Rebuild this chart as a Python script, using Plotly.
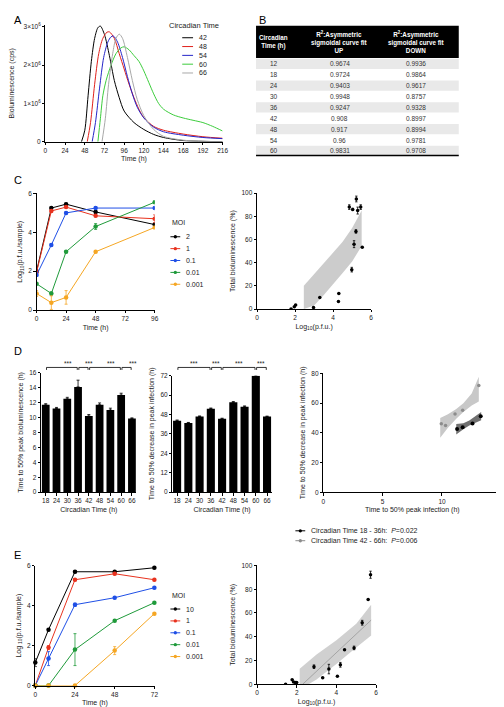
import plotly.graph_objects as go

W, H = 504, 707
FONT = "Liberation Sans, Arial, sans-serif"

def px(x):
    return x / W

def py(y):
    return 1 - y / H

# ---------------- DATA ----------------
# Panel A: bioluminescence curves (cps)
a_labels = ["42", "48", "54", "60", "66"]
a_colors = ["#000000", "#e0201b", "#2525c8", "#3ccc3c", "#a8a8a8"]
a_t42 = [44, 48, 52, 56, 60, 64, 67, 72, 78, 84, 90, 96, 108, 120, 132, 144, 168, 192, 216]
a_v42 = [0, 0.3e6, 1.2e6, 2.1e6, 2.7e6, 2.98e6, 3.02e6, 2.8e6, 2.25e6, 1.6e6, 1.15e6, 0.8e6,
         0.5e6, 0.32e6, 0.19e6, 0.11e6, 0.03e6, 0.01e6, 0.0]
a_t48 = [51, 55, 60, 65, 70, 75, 78, 84, 90, 96, 102, 108, 114, 120, 132, 144, 168, 192, 216]
a_v48 = [0, 0.5e6, 1.5e6, 2.3e6, 2.7e6, 2.86e6, 2.87e6, 2.7e6, 2.3e6, 1.9e6, 1.5e6, 1.15e6,
         0.85e6, 0.63e6, 0.4e6, 0.3e6, 0.2e6, 0.13e6, 0.09e6]
a_t54 = [57, 61, 66, 71, 76, 80, 83, 88, 94, 100, 106, 112, 120, 132, 144, 168, 192, 216]
a_v54 = [0, 0.5e6, 1.4e6, 2.2e6, 2.6e6, 2.74e6, 2.76e6, 2.6e6, 2.2e6, 1.7e6, 1.25e6, 0.9e6,
         0.62e6, 0.38e6, 0.26e6, 0.17e6, 0.11e6, 0.08e6]
a_t60 = [64, 67, 70, 74, 80, 86, 92, 96, 102, 108, 114, 120, 126, 132, 138, 144, 156, 168, 180, 192, 204, 216]
a_v60 = [0, 0.6e6, 1.2e6, 1.6e6, 2.0e6, 2.3e6, 2.45e6, 2.48e6, 2.4e6, 2.25e6, 2.1e6, 1.85e6,
         1.55e6, 1.25e6, 1.0e6, 0.85e6, 0.7e6, 0.62e6, 0.56e6, 0.5e6, 0.4e6, 0.28e6]
a_t66 = [69, 73, 77, 82, 86, 90, 94, 100, 106, 112, 120, 132, 144, 168, 192, 216]
a_v66 = [0, 0.6e6, 1.5e6, 2.3e6, 2.7e6, 2.81e6, 2.7e6, 2.2e6, 1.6e6, 1.1e6, 0.68e6, 0.32e6,
         0.14e6, 0.04e6, 0.01e6, 0.0]
a_times = [a_t42, a_t48, a_t54, a_t60, a_t66]
a_values = [a_v42, a_v48, a_v54, a_v60, a_v66]

# Panel B: table
b_header = ["<b>Circadian<br>Time (h)</b>",
            "<b>R<sup>2</sup>:Asymmetric<br>sigmoidal curve fit<br>UP</b>",
            "<b>R<sup>2</sup>:Asymmetric<br>sigmoidal curve fit<br>DOWN</b>"]
b_ct = ["12", "18", "24", "30", "36", "42", "48", "54", "60"]
b_up = ["0.9674", "0.9724", "0.9403", "0.9948", "0.9247", "0.908", "0.917", "0.96", "0.9831"]
b_down = ["0.9936", "0.9864", "0.9617", "0.8757", "0.9328", "0.8997", "0.8994", "0.9781", "0.9708"]

# Panel C left: growth curves
moi_colors = ["#000000", "#e8321e", "#1f4fe6", "#1f9a3a", "#f5a623"]
c_moi = ["2", "1", "0.1", "0.01", "0.001"]
c_time = [0, 12, 24, 48, 96]
c_vals = [
    [2.0, 5.25, 5.45, 5.05, 4.4],
    [1.95, 5.1, 5.3, 4.85, 4.7],
    [1.8, 3.35, 5.0, 5.25, 5.25],
    [1.35, 0.85, 3.0, 4.3, 5.55],
    [0.85, 0.38, 0.65, 3.0, 4.25],
]
c_err = [
    [0.05, 0.05, 0.05, 0.05, 0.05],
    [0.05, 0.05, 0.05, 0.05, 0.2],
    [0.05, 0.05, 0.05, 0.05, 0.05],
    [0.05, 0.08, 0.05, 0.15, 0.05],
    [0.15, 0.35, 0.35, 0.05, 0.05],
]

# Panel C right: scatter
cr_x = [1.79, 1.96, 2.03, 2.97, 3.3, 4.3, 4.28, 4.98, 4.85, 5.03, 5.22, 5.29, 5.45, 5.2, 5.1, 5.53]
cr_y = [0, 2, 3.4, 1.4, 10, 13.4, 6.5, 34, 88, 86, 95, 85, 88, 67, 56, 53.4]
cr_e = [0, 0, 0, 0, 0, 0, 0, 2, 2, 1, 2.5, 3, 2, 1.5, 3, 0]
cr_band_x = [2.46, 3.0, 3.5, 4.0, 4.5, 5.0, 5.5, 5.5, 5.0, 4.5, 4.0, 3.5, 3.0, 2.46]
cr_band_y = [20, 30, 39, 48, 58, 70, 85, 54.5, 41, 31, 21, 12, 3, 0]

# Panel D
d_ct = ["18", "24", "30", "36", "42", "48", "54", "60", "66"]
d_peak = [11.7, 11.2, 12.5, 14.1, 10.2, 11.7, 11.0, 13.0, 9.85]
d_peak_err = [0.15, 0.15, 0.2, 0.9, 0.2, 0.25, 0.25, 0.25, 0.1]
d_dec = [44.2, 42.8, 46.7, 51.6, 45.3, 55.5, 52.8, 72.0, 46.7]
d_dec_err = [0.4, 0.3, 0.4, 0.4, 0.4, 0.5, 0.5, 0.4, 0.3]
d_sig = [(0, 3), (3, 4), (4, 7), (7, 8)]
dr_bx = [11.27, 11.74, 12.57, 13.26]
dr_by = [42.6, 43.9, 46.3, 51.2]
dr_gx = [9.94, 10.3, 11.1, 11.74, 13.1]
dr_gy = [46.1, 45.0, 52.8, 55.2, 71.8]
dr_gband_x = [9.85, 10.5, 11.2, 11.8, 12.5, 13.1, 13.1, 12.5, 11.8, 11.2, 10.5, 9.85]
dr_gband_y = [50.1, 52.5, 56.0, 60.0, 66.5, 77.8, 61.2, 58.5, 54.0, 49.5, 43.5, 36.8]
dr_bband_x = [11.2, 11.8, 12.3, 12.8, 13.3, 13.3, 12.8, 12.3, 11.8, 11.2]
dr_bband_y = [46.0, 46.5, 48.3, 51.0, 54.0, 48.5, 47.0, 45.0, 42.5, 39.0]
dr_legend = ["Circadian Time 18 - 36h:  <i>P</i>=0.022", "Circadian Time 42 - 66h:  <i>P</i>=0.006"]

# Panel E left
e_moi = ["10", "1", "0.1", "0.01", "0.001"]
e_time = [0, 8, 24, 48, 72]
e_vals = [
    [1.15, 2.8, 5.7, 5.7, 5.9],
    [0, 1.9, 5.3, 5.6, 5.3],
    [0, 1.35, 4.05, 4.4, 4.9],
    [0, 0, 1.8, 3.25, 4.15],
    [0, 0, 0, 1.75, 3.6],
]
e_err = [
    [0.2, 0.05, 0.05, 0.05, 0.05],
    [0.05, 0.1, 0.05, 0.05, 0.05],
    [0.05, 0.35, 0.08, 0.05, 0.05],
    [0.05, 0.05, 0.8, 0.05, 0.05],
    [0.05, 0.05, 0.05, 0.2, 0.05],
]

# Panel E right
er_x = [1.44, 1.77, 1.84, 1.93, 2.0, 2.87, 3.31, 3.62, 4.05, 4.2, 4.41, 4.89, 5.3, 5.6, 5.72]
er_y = [0, 3.9, 2, 1.4, 1.4, 14.8, 5.6, 12.8, 6.7, 16.4, 29, 30.6, 51.8, 71.3, 92.2]
er_e = [0, 0, 0, 0, 0, 1.5, 0, 4, 0, 2, 0, 1.5, 2, 0, 3]
er_band_x = [2.15, 3.0, 4.0, 5.0, 5.75, 5.75, 5.0, 4.0, 3.0, 2.6, 2.15]
er_band_y = [13, 25, 37, 51, 67, 41, 31, 17, 4, 0, 0]
er_fit_x = [2.3, 5.75]
er_fit_y = [0, 54]

# ---------------- FIGURE ----------------
fig = go.Figure()

# A curves
for lab, col, tt, vv in zip(a_labels, a_colors, a_times, a_values):
    fig.add_trace(go.Scatter(x=tt, y=vv, mode="lines", line=dict(color=col, width=1, shape="spline", smoothing=0.8),
                             xaxis="x", yaxis="y", showlegend=False, hoverinfo="skip"))

# C left
for lab, col, vals, err in zip(c_moi, moi_colors, c_vals, c_err):
    fig.add_trace(go.Scatter(x=c_time, y=vals, mode="lines+markers",
                             line=dict(color=col, width=1), marker=dict(color=col, size=4.5),
                             error_y=dict(type="data", array=err, color=col, thickness=0.8, width=1.5),
                             xaxis="x2", yaxis="y2", showlegend=False, hoverinfo="skip"))

# C right
fig.add_trace(go.Scatter(x=cr_band_x, y=cr_band_y, fill="toself", mode="lines",
                         line=dict(width=0), fillcolor="rgba(170,170,170,0.6)",
                         xaxis="x3", yaxis="y3", showlegend=False, hoverinfo="skip"))
fig.add_trace(go.Scatter(x=cr_x, y=cr_y, mode="markers", marker=dict(color="black", size=3.5),
                         error_y=dict(type="data", array=cr_e, color="black", thickness=0.8, width=1.2),
                         xaxis="x3", yaxis="y3", showlegend=False, hoverinfo="skip"))

# D left / middle bars
d_idx = list(range(len(d_ct)))
fig.add_trace(go.Bar(x=d_idx, y=d_peak, width=0.72, marker=dict(color="black", line=dict(width=0)),
                     error_y=dict(type="data", array=d_peak_err, arrayminus=[0] * 9, color="black", thickness=0.8, width=1.5),
                     xaxis="x4", yaxis="y4", showlegend=False, hoverinfo="skip"))
fig.add_trace(go.Bar(x=d_idx, y=d_dec, width=0.72, marker=dict(color="black", line=dict(width=0)),
                     error_y=dict(type="data", array=d_dec_err, arrayminus=[0] * 9, color="black", thickness=0.8, width=1.5),
                     xaxis="x5", yaxis="y5", showlegend=False, hoverinfo="skip"))

# D right
fig.add_trace(go.Scatter(x=dr_gband_x, y=dr_gband_y, fill="toself", mode="lines", line=dict(width=0),
                         fillcolor="#c8c8c8", xaxis="x6", yaxis="y6", showlegend=False, hoverinfo="skip"))
fig.add_trace(go.Scatter(x=dr_bband_x, y=dr_bband_y, fill="toself", mode="lines", line=dict(width=0),
                         fillcolor="#707070", xaxis="x6", yaxis="y6", showlegend=False, hoverinfo="skip"))
fig.add_trace(go.Scatter(x=dr_gx, y=dr_gy, mode="markers", marker=dict(color="#8c8c8c", size=3.5),
                         xaxis="x6", yaxis="y6", showlegend=False, hoverinfo="skip"))
fig.add_trace(go.Scatter(x=dr_bx, y=dr_by, mode="markers", marker=dict(color="black", size=4),
                         xaxis="x6", yaxis="y6", showlegend=False, hoverinfo="skip"))

# E left
for lab, col, vals, err in zip(e_moi, moi_colors, e_vals, e_err):
    fig.add_trace(go.Scatter(x=e_time, y=vals, mode="lines+markers",
                             line=dict(color=col, width=1), marker=dict(color=col, size=4.5),
                             error_y=dict(type="data", array=err, color=col, thickness=0.8, width=1.5),
                             xaxis="x7", yaxis="y7", showlegend=False, hoverinfo="skip", cliponaxis=False))

# E right
fig.add_trace(go.Scatter(x=er_band_x, y=er_band_y, fill="toself", mode="lines", line=dict(width=0),
                         fillcolor="rgba(170,170,170,0.55)", xaxis="x8", yaxis="y8", showlegend=False, hoverinfo="skip"))
fig.add_trace(go.Scatter(x=er_fit_x, y=er_fit_y, mode="lines", line=dict(color="#999999", width=0.8),
                         xaxis="x8", yaxis="y8", showlegend=False, hoverinfo="skip"))
fig.add_trace(go.Scatter(x=er_x, y=er_y, mode="markers", marker=dict(color="black", size=3.5),
                         error_y=dict(type="data", array=er_e, color="black", thickness=0.8, width=1.2),
                         xaxis="x8", yaxis="y8", showlegend=False, hoverinfo="skip"))

# ---------------- AXES ----------------
def ax(**kw):
    base = dict(showline=True, linecolor="black", linewidth=0.8, ticks="outside", ticklen=2.5,
                tickwidth=0.8, tickcolor="black", showgrid=False, zeroline=False, fixedrange=True,
                tickfont=dict(size=6.5, color="#222222", family=FONT),
                title_font=dict(size=7, color="#222222", family=FONT))
    base.update(kw)
    return base

dom = {}
dom["A"] = ([px(36), px(216)], [py(131), py(13.1)])
dom["CL"] = ([px(27), px(147)], [py(301), py(183.3)])
dom["CR"] = ([px(251), px(367)], [py(300), py(183)])
dom["DL"] = ([px(31.7), px(128.5)], [py(485), py(364.3)])
dom["DM"] = ([px(165), px(266)], [py(485), py(367.3)])
dom["DR"] = ([px(318.3), px(499.3)], [py(485.3), py(365)])
dom["EL"] = ([px(25.7), px(146.7)], [py(680.3), py(559.3)])
dom["ER"] = ([px(251), px(372)], [py(679), py(559)])

fig.update_layout(
    xaxis=ax(domain=dom["A"][0], anchor="y", range=[0, 216], tickvals=list(range(0, 217, 24)),
             title=dict(text="Time (h)", standoff=3)),
    yaxis=ax(domain=dom["A"][1], anchor="x", range=[0, 3.05e6], tickvals=[0, 1e6, 2e6, 3e6],
             ticktext=["0", "1×10<sup>6</sup>", "2×10<sup>6</sup>", "3×10<sup>6</sup>"],
             title=dict(text="Bioluminescence (cps)", standoff=9)),
    xaxis2=ax(domain=dom["CL"][0], anchor="y2", range=[0, 96], tickvals=[0, 24, 48, 72, 96],
              title=dict(text="Time (h)", standoff=3)),
    yaxis2=ax(domain=dom["CL"][1], anchor="x2", range=[0, 6], tickvals=[0, 2, 4, 6],
              title=dict(text="Log<sub>10</sub>(p.f.u./sample)", standoff=4)),
    xaxis3=ax(domain=dom["CR"][0], anchor="y3", range=[0, 6], tickvals=[0, 2, 4, 6],
              title=dict(text="Log<sub>10</sub>(p.f.u.)", standoff=3)),
    yaxis3=ax(domain=dom["CR"][1], anchor="x3", range=[0, 100], tickvals=[0, 20, 40, 60, 80, 100],
              title=dict(text="Total bioluminescence (%)", standoff=4)),
    xaxis4=ax(domain=dom["DL"][0], anchor="y4", range=[-0.42, 8.42], tickvals=d_idx, ticktext=d_ct,
              title=dict(text="Circadian Time (h)", standoff=3)),
    yaxis4=ax(domain=dom["DL"][1], anchor="x4", range=[0, 16], tickvals=list(range(0, 17, 2)),
              title=dict(text="Time to 50% peak bioluminescence (h)", standoff=4)),
    xaxis5=ax(domain=dom["DM"][0], anchor="y5", range=[-0.42, 8.42], tickvals=d_idx, ticktext=d_ct,
              title=dict(text="Circadian Time (h)", standoff=3)),
    yaxis5=ax(domain=dom["DM"][1], anchor="x5", range=[0, 72], tickvals=list(range(0, 73, 12)),
              title=dict(text="Time to 50% decrease in peak infection (h)", standoff=4)),
    xaxis6=ax(domain=dom["DR"][0], anchor="y6", range=[0, 15], tickvals=[0, 5, 10, 15],
              title=dict(text="Time to 50% peak infection (h)", standoff=3)),
    yaxis6=ax(domain=dom["DR"][1], anchor="x6", range=[0, 80], tickvals=[0, 20, 40, 60, 80],
              title=dict(text="Time to 50% decrease in peak infection (h)", standoff=4)),
    xaxis7=ax(domain=dom["EL"][0], anchor="y7", range=[0, 72], tickvals=[0, 24, 48, 72],
              title=dict(text="Time (h)", standoff=3)),
    yaxis7=ax(domain=dom["EL"][1], anchor="x7", range=[0, 6], tickvals=[0, 2, 4, 6],
              title=dict(text="Log <sub>10</sub>(p.f.u./sample)", standoff=4)),
    xaxis8=ax(domain=dom["ER"][0], anchor="y8", range=[0, 6], tickvals=[0, 2, 4, 6],
              title=dict(text="Log<sub>10</sub>(p.f.u.)", standoff=3)),
    yaxis8=ax(domain=dom["ER"][1], anchor="x8", range=[0, 100], tickvals=[0, 20, 40, 60, 80, 100],
              title=dict(text="Total bioluminescence (%)", standoff=4)),
)

# ---------------- ANNOTATIONS / LEGENDS ----------------
annotations = []
shapes = []

def label(x, y, text, size=7, color="#222222", xanchor="left", yanchor="middle"):
    annotations.append(dict(x=px(x), y=py(y), xref="paper", yref="paper", text=text, showarrow=False,
                            xanchor=xanchor, yanchor=yanchor, font=dict(size=size, color=color, family=FONT)))

for letter, (x, y) in zip("ABCDE", [(2, 8), (251, 8), (2, 170), (2, 342), (2, 548)]):
    label(x, y, letter, size=11, color="black")

# B table drawn with rectangles and text
tb_left, tb_right = 250, 456
tb_col_centers = [268, 335, 413]
tb_head_top, tb_head_bot = 14, 46.5
tb_row_h = 11
shapes.append(dict(type="rect", xref="paper", yref="paper", x0=px(tb_left), x1=px(tb_right),
                   y0=py(tb_head_bot), y1=py(tb_head_top), fillcolor="black", line=dict(width=0)))
for j, htxt in enumerate(b_header):
    label(tb_col_centers[j], (tb_head_top + tb_head_bot) / 2, htxt, size=6.3, color="white", xanchor="center")
for i, (ct, up, dn) in enumerate(zip(b_ct, b_up, b_down)):
    yc = 52.3 + i * tb_row_h
    if i % 2 == 0:
        shapes.append(dict(type="rect", xref="paper", yref="paper", x0=px(tb_left), x1=px(tb_right),
                           y0=py(yc + 5.2), y1=py(yc - 5.2), fillcolor="#e9e9e9", line=dict(width=0), layer="below"))
    for j, v in enumerate([ct, up, dn]):
        label(tb_col_centers[j], yc, v, size=6.5, color="#333333", xanchor="center")
shapes.append(dict(type="line", xref="paper", yref="paper", x0=px(tb_left), x1=px(tb_right), y0=py(145), y1=py(145),
                   line=dict(color="black", width=1.5)))

# A legend
label(160, 14, "Circadian Time", size=7.5)
for i, (lab, col) in enumerate(zip(a_labels, a_colors)):
    yy = 26 + i * 8.9
    shapes.append(dict(type="line", xref="paper", yref="paper", x0=px(175), x1=px(186), y0=py(yy), y1=py(yy),
                       line=dict(color=col, width=1)))
    label(190, yy, lab, size=7)

# MOI legends (C and E)
def moi_legend(x0, y0, labels):
    label(x0, y0, "MOI", size=7)
    for i, (lab, col) in enumerate(zip(labels, moi_colors)):
        yy = y0 + 14 + i * 12
        shapes.append(dict(type="line", xref="paper", yref="paper", x0=px(x0), x1=px(x0 + 10), y0=py(yy), y1=py(yy),
                           line=dict(color=col, width=1)))
        shapes.append(dict(type="circle", xref="paper", yref="paper", x0=px(x0 + 3.3), x1=px(x0 + 6.7),
                           y0=py(yy + 1.7), y1=py(yy - 1.7), fillcolor=col, line=dict(color=col, width=0)))
        label(x0 + 14, yy, lab, size=7)

moi_legend(163, 213, c_moi)
moi_legend(163, 589, e_moi)

# D legend
for i, (txt, col) in enumerate(zip(dr_legend, ["black", "#8c8c8c"])):
    yy = 524 + i * 10
    shapes.append(dict(type="line", xref="paper", yref="paper", x0=px(290), x1=px(300), y0=py(yy), y1=py(yy),
                       line=dict(color=col, width=1)))
    shapes.append(dict(type="circle", xref="paper", yref="paper", x0=px(293.3), x1=px(296.7),
                       y0=py(yy + 1.7), y1=py(yy - 1.7), fillcolor=col, line=dict(color=col, width=0)))
    label(304, yy, txt, size=7)

# significance brackets
def xp(d, rng, v):
    return d[0] + (v - rng[0]) / (rng[1] - rng[0]) * (d[1] - d[0])

for key in ["DL", "DM"]:
    d = dom[key][0]
    rng = [-0.42, 8.42]
    for a, b in d_sig:
        xa = xp(d, rng, a) + px(0.8)
        xb = xp(d, rng, b) - px(0.8)
        shapes.append(dict(type="path", xref="paper", yref="paper",
                           path=f"M {xa},{py(361.5)} L {xa},{py(359)} L {xb},{py(359)} L {xb},{py(361.5)}",
                           line=dict(color="black", width=0.8)))
        annotations.append(dict(x=(xa + xb) / 2, y=py(355.5), xref="paper", yref="paper", text="***",
                                showarrow=False, font=dict(size=6.5, color="#222222", family=FONT)))

fig.update_layout(
    width=W, height=H, margin=dict(l=0, r=0, t=0, b=0),
    paper_bgcolor="white", plot_bgcolor="rgba(0,0,0,0)",
    font=dict(family=FONT, size=7, color="#222222"),
    annotations=annotations, shapes=shapes, showlegend=False, bargap=0.28,
)

fig.write_html("out.html")
